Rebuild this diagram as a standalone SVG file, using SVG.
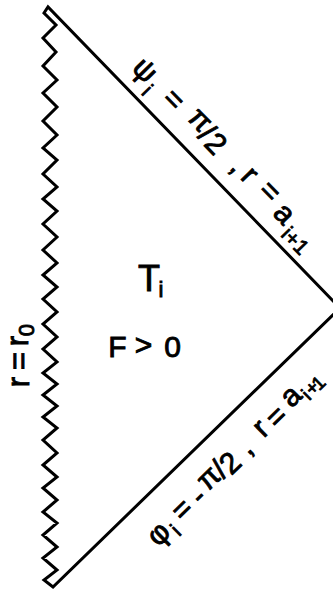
<svg xmlns="http://www.w3.org/2000/svg" width="333" height="590" viewBox="0 0 333 590">
<style>
.edge{fill:none;stroke:#000;stroke-width:3;stroke-linejoin:miter;stroke-linecap:butt}
.lbl{font-family:"Liberation Sans","DejaVu Sans",sans-serif;font-size:30px;fill:#000;stroke:#000;stroke-width:0.9;text-anchor:middle}
.sub{font-size:21px}
.sub2{font-size:19px}
</style>
<rect x="0" y="0" width="333" height="590" fill="#fff"/>
<g id="boundary">
<path class="edge" d="M340,308 L48,7 L44,13 L56,25 L43,38 L56,52 L43,66 L57,80 L43,93 L57,107 L43,121 L57,135 L43,148 L57,160 L43,174 L57,187 L43,199 L57,211 L43,224 L57,237 L43,250 L57,263 L43,275 L57,287 L43,299 L57,312 L43,324 L57,337 L43,349 L57,362 L43,373 L57,384 L43,395 L57,406 L43,417 L57,428 L43,440 L57,453 L43,465 L57,477 L43,488 L57,500 L43,512 L57,523 L43,535 L57,547 L43,558 L57,570 L44,580 L53,587 L340,308"/>
</g>
<g id="label-upper" transform="translate(48,7) rotate(45.8)">
<text class="lbl"><tspan x="113" y="-16">ψ</tspan><tspan class="sub" x="129" y="-6">i</tspan><tspan x="154" y="-16">=</tspan><tspan x="187" y="-21">π</tspan><tspan x="201" y="-16">/</tspan><tspan x="215" y="-15">2</tspan><tspan x="246" y="-17">,</tspan><tspan x="261" y="-18">r</tspan><tspan x="287" y="-21">=</tspan><tspan x="313" y="-16">a</tspan><tspan class="sub" x="340" y="-7">i+1</tspan></text>
</g>
<g id="label-lower" transform="translate(55,587) rotate(-44.4)">
<text class="lbl"><tspan x="111" y="44">φ</tspan><tspan class="sub" x="126" y="51">i</tspan><tspan x="145" y="43">=</tspan><tspan x="166" y="45">-</tspan><tspan x="186" y="39">π</tspan><tspan x="200" y="41">/</tspan><tspan x="212" y="44">2</tspan><tspan x="234" y="42">,</tspan><tspan x="258" y="40">r</tspan><tspan x="277.5" y="43">=</tspan><tspan x="302" y="38">a</tspan><tspan class="sub2" x="314" y="45">i</tspan><tspan class="sub2" x="323" y="44">+</tspan><tspan class="sub2" x="331" y="45">1</tspan></text>
</g>
<g id="label-left" transform="rotate(-90)">
<text class="lbl" style="font-size:31px"><tspan x="-382" y="29">r</tspan><tspan x="-361" y="29">=</tspan><tspan x="-341" y="28">r</tspan><tspan x="-330" y="34" style="font-size:22px">0</tspan></text>
</g>
<g id="region-label">
<text class="lbl" style="font-size:36px"><tspan x="149" y="291">T</tspan><tspan x="161" y="297" style="font-size:22px">i</tspan></text>
<text class="lbl"><tspan x="117.5" y="357">F</tspan><tspan x="143.5" y="355">&gt;</tspan><tspan x="172.5" y="357">0</tspan></text>
</g>
</svg>
